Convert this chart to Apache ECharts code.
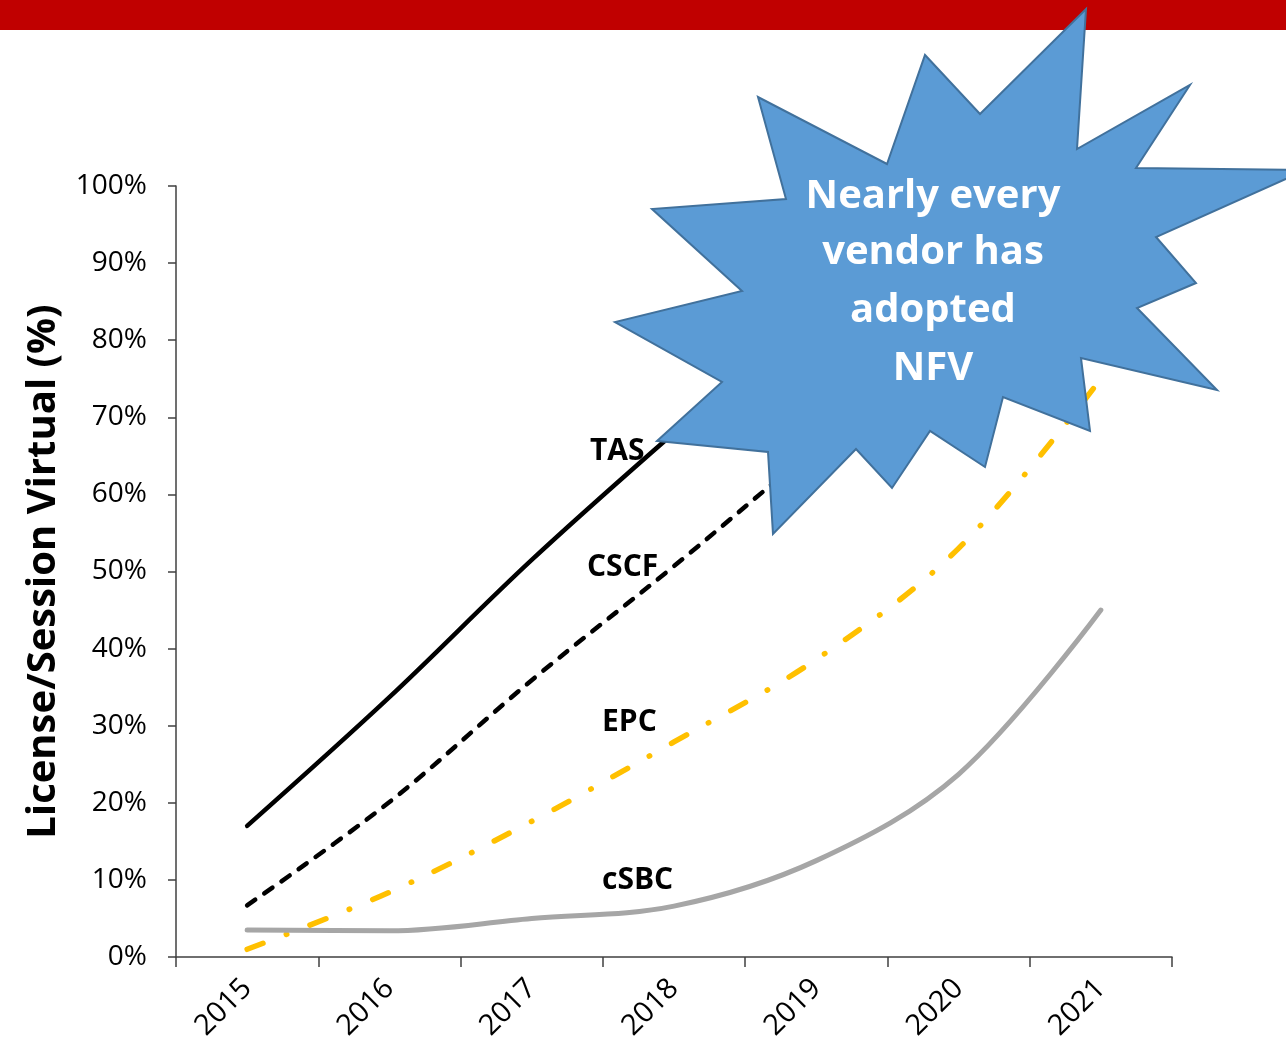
<!DOCTYPE html>
<html>
<head>
<meta charset="utf-8">
<script src="https://cdn.jsdelivr.net/npm/echarts@6/dist/echarts.min.js"></script>
<style>
html,body{margin:0;padding:0;background:#fff;}
#chart{width:1286px;height:1044px;}
</style>
</head>
<body>
<div id="chart"></div>
<script>
var years = ['2015','2016','2017','2018','2019','2020','2021'];
var tasValues  = [17, 33.7, 51.5, 68, 84, 95, 99];
var cscfValues = [6.7, 20.1, 35.9, 50.7, 66, 80, 90];
var epcValues  = [1, 8.4, 17.6, 27.9, 38.6, 53, 75];
var csbcValues = [3.5, 3.4, 5.0, 6.6, 12.5, 23.7, 45];
var seriesNames = ['TAS', 'CSCF', 'EPC', 'cSBC'];
var yTickFormat = '{value}%';
var yTitle = 'License/Session Virtual (%)';
var calloutLines = ['Nearly every', 'vendor has', 'adopted', 'NFV'];

var FONT = '"Open Sans", "DejaVu Sans", sans-serif';
var chart = echarts.init(document.getElementById('chart'), null, {renderer: 'canvas'});

var starPts = [[1086,9],[1077,149],[1190,85],[1136,168],[1306,170],[1156,237],[1196,283],[1137,308],[1217,390],[1081,358],[1090,431],[1003,397],[985,467],[930,431],[892,488],[856,449],[773,534],[768,452],[657,441],[722,382],[615,322],[742,291],[652,209],[786,199],[758,97],[887,164],[925,55],[980,114]];

var graphics = [
  {type:'rect', left:0, top:0, z:50, shape:{x:0,y:0,width:1286,height:30}, style:{fill:'#c00000'}},
  {type:'polygon', z:100, shape:{points: starPts}, style:{fill:'#5b9bd5', stroke:'#41719c', lineWidth:2}}
];
var lineYs = [197, 253, 311, 369];
calloutLines.forEach(function(t, i){
  graphics.push({type:'text', z:101, x:933, y:lineYs[i], style:{text:t, fill:'#ffffff', font:'bold 40px ' + FONT, textAlign:'center', textVerticalAlign:'middle'}});
});
var labelPos = [[590,451],[587,567],[602,722],[602,880]];
seriesNames.forEach(function(t, i){
  graphics.push({type:'text', z:60, x:labelPos[i][0], y:labelPos[i][1], style:{text:t, fill:'#000000', font:'bold 30px ' + FONT, textAlign:'left', textVerticalAlign:'middle'}});
});

var option = {
  animation: false,
  backgroundColor: '#ffffff',
  grid: {left:176, right:114, top:186, bottom:87, containLabel:false},
  xAxis: {
    type:'category', data: years, boundaryGap: true,
    axisLine:{show:true, lineStyle:{color:'#404040', width:1.5}},
    axisTick:{show:true, length:10, alignWithLabel:false, lineStyle:{color:'#404040', width:1.5}},
    axisLabel:{rotate:45, fontSize:29, color:'#000', fontFamily:FONT, margin:27, interval:0},
    splitLine:{show:false}
  },
  yAxis: {
    type:'value', min:0, max:100, interval:10,
    name: yTitle, nameLocation:'middle', nameGap:112, nameRotate:90,
    nameTextStyle:{fontSize:40, fontWeight:'bold', color:'#000', fontFamily:FONT},
    axisLine:{show:true, lineStyle:{color:'#404040', width:1.5}},
    axisTick:{show:true, inside:false, length:8, lineStyle:{color:'#404040', width:1.5}},
    axisLabel:{formatter: yTickFormat, fontSize:28, color:'#000', fontFamily:FONT, margin:29},
    splitLine:{show:false}
  },
  series: [
    {name:seriesNames[0], type:'line', data:tasValues, smooth:0.35, symbol:'none', z:3,
     lineStyle:{color:'#000000', width:4.5, cap:'round'}},
    {name:seriesNames[1], type:'line', data:cscfValues, smooth:0.35, symbol:'none', z:3,
     lineStyle:{color:'#000000', width:4.5, type:[10,11], cap:'round'}},
    {name:seriesNames[2], type:'line', data:epcValues, smooth:0.35, symbol:'none', z:3,
     lineStyle:{color:'#ffc000', width:5.5, type:[17,25,0.5,25], cap:'round'}},
    {name:seriesNames[3], type:'line', data:csbcValues, smooth:0.35, symbol:'none', z:3,
     lineStyle:{color:'#a6a6a6', width:5, cap:'round'}}
  ],
  graphic: graphics
};
chart.setOption(option);
</script>
</body>
</html>
